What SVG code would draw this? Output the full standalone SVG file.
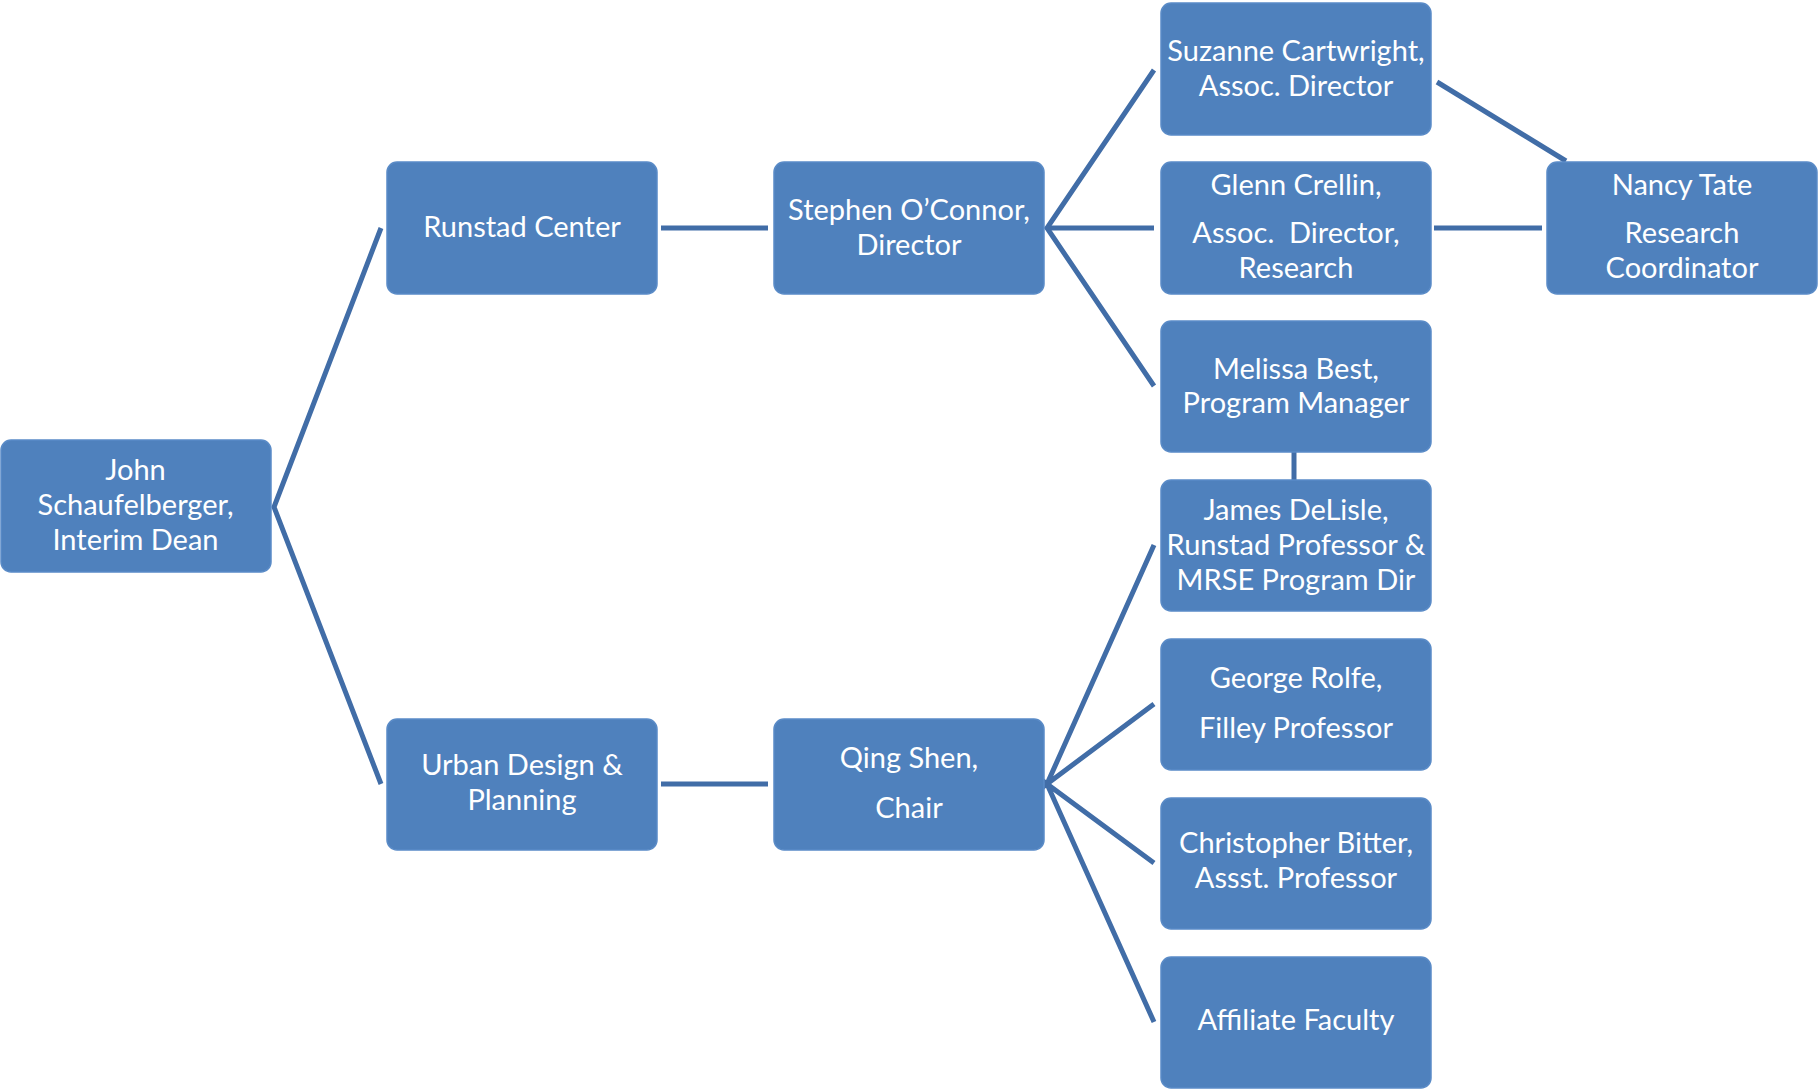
<svg xmlns="http://www.w3.org/2000/svg" width="1818" height="1090" viewBox="0 0 1818 1090">
<style>
.box{fill:#4F81BD;stroke:#5A8BC7;stroke-width:1.5}
.t{font-family:Lato,"Open Sans","Liberation Sans",sans-serif;font-size:29px;fill:#FFFFFF;text-anchor:middle;white-space:pre}
.c{stroke:#416DA7;stroke-width:5;fill:none;stroke-linecap:butt;stroke-linejoin:miter}
</style>
<rect width="1818" height="1090" fill="#FFFFFF"/>
<g id="connectors">
<polyline class="c" points="381,228 274,507 381,784"/>
<line class="c" x1="661" y1="228" x2="768" y2="228"/>
<line class="c" x1="661" y1="784" x2="768" y2="784"/>
<polyline class="c" points="1154,70 1047,228 1154,386"/>
<line class="c" x1="1047" y1="228" x2="1154" y2="228"/>
<line class="c" x1="1294" y1="452" x2="1294" y2="480"/>
<polyline class="c" points="1154,545 1047,784 1154,704"/>
<polyline class="c" points="1154,863 1047,784 1154,1022"/>
<line class="c" x1="1437" y1="82" x2="1566" y2="161"/>
<line class="c" x1="1434" y1="228" x2="1542" y2="228"/>
</g>
<g id="john"><rect class="box" x="1" y="440" width="270" height="132" rx="10"/>
<text class="t" x="135.5" y="480">John</text><text class="t" x="135.5" y="515">Schaufelberger,</text><text class="t" x="135.5" y="550">Interim Dean</text></g>
<g id="runstad"><rect class="box" x="387" y="162" width="270" height="132" rx="10"/>
<text class="t" x="522" y="237">Runstad Center</text></g>
<g id="urban"><rect class="box" x="387" y="719" width="270" height="131" rx="10"/>
<text class="t" x="522" y="775">Urban Design &amp;</text><text class="t" x="522" y="810">Planning</text></g>
<g id="stephen"><rect class="box" x="774" y="162" width="270" height="132" rx="10"/>
<text class="t" x="909" y="220">Stephen O’Connor,</text><text class="t" x="909" y="255">Director</text></g>
<g id="qing"><rect class="box" x="774" y="719" width="270" height="131" rx="10"/>
<text class="t" x="909" y="768">Qing Shen,</text><text class="t" x="909" y="818">Chair</text></g>
<g id="suzanne"><rect class="box" x="1161" y="3" width="270" height="132" rx="10"/>
<text class="t" x="1296" y="61">Suzanne Cartwright,</text><text class="t" x="1296" y="96">Assoc. Director</text></g>
<g id="glenn"><rect class="box" x="1161" y="162" width="270" height="132" rx="10"/>
<text class="t" x="1296" y="195">Glenn Crellin,</text><text class="t" x="1296" y="243">Assoc.  Director,</text><text class="t" x="1296" y="278">Research</text></g>
<g id="melissa"><rect class="box" x="1161" y="321" width="270" height="131" rx="10"/>
<text class="t" x="1296" y="379">Melissa Best,</text><text class="t" x="1296" y="413">Program Manager</text></g>
<g id="james"><rect class="box" x="1161" y="480" width="270" height="131" rx="10"/>
<text class="t" x="1296" y="520">James DeLisle,</text><text class="t" x="1296" y="555">Runstad Professor &amp;</text><text class="t" x="1296" y="590">MRSE Program Dir</text></g>
<g id="george"><rect class="box" x="1161" y="639" width="270" height="131" rx="10"/>
<text class="t" x="1296" y="688">George Rolfe,</text><text class="t" x="1296" y="738">Filley Professor</text></g>
<g id="christopher"><rect class="box" x="1161" y="798" width="270" height="131" rx="10"/>
<text class="t" x="1296" y="853">Christopher Bitter,</text><text class="t" x="1296" y="888">Assst. Professor</text></g>
<g id="affiliate"><rect class="box" x="1161" y="957" width="270" height="131" rx="10"/>
<text class="t" x="1296" y="1030">Affiliate Faculty</text></g>
<g id="nancy"><rect class="box" x="1547" y="162" width="270" height="132" rx="10"/>
<text class="t" x="1682" y="195">Nancy Tate</text><text class="t" x="1682" y="243">Research</text><text class="t" x="1682" y="278">Coordinator</text></g>
</svg>
